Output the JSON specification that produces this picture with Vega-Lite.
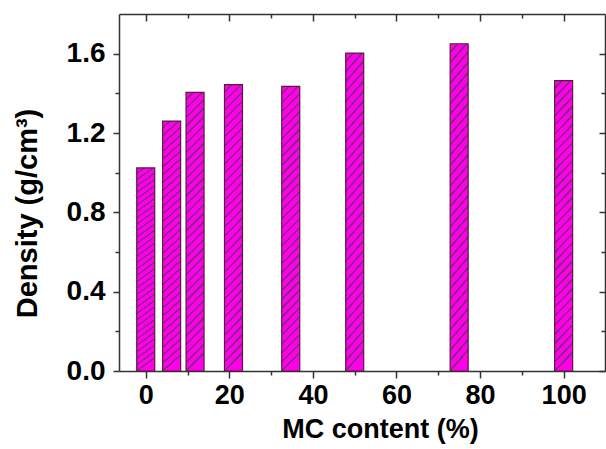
{
  "$schema": "https://vega.github.io/schema/vega-lite/v6.json",
  "width": 486,
  "height": 357,
  "autosize": {"type": "none"},
  "padding": {"left": 119, "top": 14, "right": 1, "bottom": 78},
  "background": "white",
  "config": {
    "view": {"stroke": null},
    "axis": {
      "domainColor": "#333333",
      "domainWidth": 1.5,
      "tickColor": "#333333",
      "tickWidth": 1.5,
      "grid": false,
      "labelFont": "Liberation Sans",
      "labelFontWeight": "bold",
      "labelColor": "black",
      "titleFont": "Liberation Sans",
      "titleFontWeight": "bold",
      "titleColor": "black"
    }
  },
  "data": {
    "values": [
      {"mc": 0, "density": 1.024},
      {"mc": 6.2, "density": 1.26},
      {"mc": 11.8, "density": 1.405},
      {"mc": 21.0, "density": 1.444},
      {"mc": 34.7, "density": 1.435},
      {"mc": 50, "density": 1.603},
      {"mc": 75, "density": 1.65},
      {"mc": 100, "density": 1.464}
    ]
  },
  "layer": [
    {
      "mark": {
        "type": "bar",
        "width": 18,
        "stroke": "#5a1a40",
        "strokeWidth": 1.2,
        "fill": {
          "gradient": "linear",
          "x1": 0, "y1": 0, "x2": 0.0643, "y2": 1,
          "stops": [
            {"offset": 0, "color": "#ff00e8"}, {"offset": 0.022, "color": "#ff00e8"}, {"offset": 0.023, "color": "#842a86"}, {"offset": 0.03, "color": "#842a86"},
            {"offset": 0.03125, "color": "#ff00e8"}, {"offset": 0.05325, "color": "#ff00e8"}, {"offset": 0.05425, "color": "#842a86"}, {"offset": 0.06125, "color": "#842a86"},
            {"offset": 0.0625, "color": "#ff00e8"}, {"offset": 0.0845, "color": "#ff00e8"}, {"offset": 0.0855, "color": "#842a86"}, {"offset": 0.0925, "color": "#842a86"},
            {"offset": 0.09375, "color": "#ff00e8"}, {"offset": 0.11575, "color": "#ff00e8"}, {"offset": 0.11675, "color": "#842a86"}, {"offset": 0.12375, "color": "#842a86"},
            {"offset": 0.125, "color": "#ff00e8"}, {"offset": 0.147, "color": "#ff00e8"}, {"offset": 0.148, "color": "#842a86"}, {"offset": 0.155, "color": "#842a86"},
            {"offset": 0.15625, "color": "#ff00e8"}, {"offset": 0.17825, "color": "#ff00e8"}, {"offset": 0.17925, "color": "#842a86"}, {"offset": 0.18625, "color": "#842a86"},
            {"offset": 0.1875, "color": "#ff00e8"}, {"offset": 0.2095, "color": "#ff00e8"}, {"offset": 0.2105, "color": "#842a86"}, {"offset": 0.2175, "color": "#842a86"},
            {"offset": 0.21875, "color": "#ff00e8"}, {"offset": 0.24075, "color": "#ff00e8"}, {"offset": 0.24175, "color": "#842a86"}, {"offset": 0.24875, "color": "#842a86"},
            {"offset": 0.25, "color": "#ff00e8"}, {"offset": 0.272, "color": "#ff00e8"}, {"offset": 0.273, "color": "#842a86"}, {"offset": 0.28, "color": "#842a86"},
            {"offset": 0.28125, "color": "#ff00e8"}, {"offset": 0.30325, "color": "#ff00e8"}, {"offset": 0.30425, "color": "#842a86"}, {"offset": 0.31125, "color": "#842a86"},
            {"offset": 0.3125, "color": "#ff00e8"}, {"offset": 0.3345, "color": "#ff00e8"}, {"offset": 0.3355, "color": "#842a86"}, {"offset": 0.3425, "color": "#842a86"},
            {"offset": 0.34375, "color": "#ff00e8"}, {"offset": 0.36575, "color": "#ff00e8"}, {"offset": 0.36675, "color": "#842a86"}, {"offset": 0.37375, "color": "#842a86"},
            {"offset": 0.375, "color": "#ff00e8"}, {"offset": 0.397, "color": "#ff00e8"}, {"offset": 0.398, "color": "#842a86"}, {"offset": 0.405, "color": "#842a86"},
            {"offset": 0.40625, "color": "#ff00e8"}, {"offset": 0.42825, "color": "#ff00e8"}, {"offset": 0.42925, "color": "#842a86"}, {"offset": 0.43625, "color": "#842a86"},
            {"offset": 0.4375, "color": "#ff00e8"}, {"offset": 0.4595, "color": "#ff00e8"}, {"offset": 0.4605, "color": "#842a86"}, {"offset": 0.4675, "color": "#842a86"},
            {"offset": 0.46875, "color": "#ff00e8"}, {"offset": 0.49075, "color": "#ff00e8"}, {"offset": 0.49175, "color": "#842a86"}, {"offset": 0.49875, "color": "#842a86"},
            {"offset": 0.5, "color": "#ff00e8"}, {"offset": 0.522, "color": "#ff00e8"}, {"offset": 0.523, "color": "#842a86"}, {"offset": 0.53, "color": "#842a86"},
            {"offset": 0.53125, "color": "#ff00e8"}, {"offset": 0.55325, "color": "#ff00e8"}, {"offset": 0.55425, "color": "#842a86"}, {"offset": 0.56125, "color": "#842a86"},
            {"offset": 0.5625, "color": "#ff00e8"}, {"offset": 0.5845, "color": "#ff00e8"}, {"offset": 0.5855, "color": "#842a86"}, {"offset": 0.5925, "color": "#842a86"},
            {"offset": 0.59375, "color": "#ff00e8"}, {"offset": 0.61575, "color": "#ff00e8"}, {"offset": 0.61675, "color": "#842a86"}, {"offset": 0.62375, "color": "#842a86"},
            {"offset": 0.625, "color": "#ff00e8"}, {"offset": 0.647, "color": "#ff00e8"}, {"offset": 0.648, "color": "#842a86"}, {"offset": 0.655, "color": "#842a86"},
            {"offset": 0.65625, "color": "#ff00e8"}, {"offset": 0.67825, "color": "#ff00e8"}, {"offset": 0.67925, "color": "#842a86"}, {"offset": 0.68625, "color": "#842a86"},
            {"offset": 0.6875, "color": "#ff00e8"}, {"offset": 0.7095, "color": "#ff00e8"}, {"offset": 0.7105, "color": "#842a86"}, {"offset": 0.7175, "color": "#842a86"},
            {"offset": 0.71875, "color": "#ff00e8"}, {"offset": 0.74075, "color": "#ff00e8"}, {"offset": 0.74175, "color": "#842a86"}, {"offset": 0.74875, "color": "#842a86"},
            {"offset": 0.75, "color": "#ff00e8"}, {"offset": 0.772, "color": "#ff00e8"}, {"offset": 0.773, "color": "#842a86"}, {"offset": 0.78, "color": "#842a86"},
            {"offset": 0.78125, "color": "#ff00e8"}, {"offset": 0.80325, "color": "#ff00e8"}, {"offset": 0.80425, "color": "#842a86"}, {"offset": 0.81125, "color": "#842a86"},
            {"offset": 0.8125, "color": "#ff00e8"}, {"offset": 0.8345, "color": "#ff00e8"}, {"offset": 0.8355, "color": "#842a86"}, {"offset": 0.8425, "color": "#842a86"},
            {"offset": 0.84375, "color": "#ff00e8"}, {"offset": 0.86575, "color": "#ff00e8"}, {"offset": 0.86675, "color": "#842a86"}, {"offset": 0.87375, "color": "#842a86"},
            {"offset": 0.875, "color": "#ff00e8"}, {"offset": 0.897, "color": "#ff00e8"}, {"offset": 0.898, "color": "#842a86"}, {"offset": 0.905, "color": "#842a86"},
            {"offset": 0.90625, "color": "#ff00e8"}, {"offset": 0.92825, "color": "#ff00e8"}, {"offset": 0.92925, "color": "#842a86"}, {"offset": 0.93625, "color": "#842a86"},
            {"offset": 0.9375, "color": "#ff00e8"}, {"offset": 0.9595, "color": "#ff00e8"}, {"offset": 0.9605, "color": "#842a86"}, {"offset": 0.9675, "color": "#842a86"},
            {"offset": 0.96875, "color": "#ff00e8"}, {"offset": 0.99075, "color": "#ff00e8"}, {"offset": 0.99175, "color": "#842a86"}, {"offset": 0.99875, "color": "#842a86"},
            {"offset": 1, "color": "#ff00e8"}
          ]
        }
      },
      "encoding": {
        "x": {
          "field": "mc",
          "type": "quantitative",
          "scale": {"domain": [-5.2, 108.7], "nice": false, "zero": false},
          "axis": {
            "orient": "bottom",
            "values": [0, 10, 20, 30, 40, 50, 60, 70, 80, 90, 100],
            "tickSize": {"condition": {"test": "datum.value % 20 === 0", "value": 7}, "value": 4},
            "labelExpr": "datum.value % 20 === 0 ? datum.label : ''",
            "labelFontSize": 27,
            "labelPadding": 4,
            "labelFlush": false,
            "title": "MC content (%)",
            "titleFontSize": 27,
            "titleX": 261,
            "titleY": 66,
            "titleAnchor": "middle",
            "titleAlign": "center",
            "titleBaseline": "alphabetic"
          }
        },
        "y": {
          "field": "density",
          "type": "quantitative",
          "scale": {"domain": [0, 1.8], "nice": false, "zero": true},
          "axis": {
            "orient": "left",
            "values": [0, 0.2, 0.4, 0.6, 0.8, 1.0, 1.2, 1.4, 1.6],
            "tickSize": {"condition": {"test": "round(datum.value*10) % 4 === 0", "value": 6}, "value": 4},
            "labelExpr": "round(datum.value*10) % 4 === 0 ? format(datum.value, '.1f') : ''",
            "labelFontSize": 28,
            "labelPadding": 8,
            "labelFlush": false,
            "title": "Density (g/cm³)",
            "titleFontSize": 29,
            "titleX": -92,
            "titleY": 199,
            "titleAngle": -90,
            "titleAnchor": "middle",
            "titleAlign": "center",
            "titleBaseline": "middle"
          }
        }
      }
    },
    {
      "mark": {"type": "point", "opacity": 0},
      "encoding": {
        "x": {
          "field": "mc",
          "type": "quantitative",
          "scale": {"domain": [-5.2, 108.7], "nice": false, "zero": false},
          "axis": {
            "orient": "top",
            "values": [0, 10, 20, 30, 40, 50, 60, 70, 80, 90, 100],
            "tickSize": {"condition": {"test": "datum.value % 20 === 0", "value": -7}, "value": -4},
            "labels": false,
            "title": null
          }
        },
        "y": {
          "field": "density",
          "type": "quantitative",
          "scale": {"domain": [0, 1.8], "nice": false, "zero": true},
          "axis": {
            "orient": "right",
            "values": [0, 0.2, 0.4, 0.6, 0.8, 1.0, 1.2, 1.4, 1.6],
            "tickSize": {"condition": {"test": "round(datum.value*10) % 4 === 0", "value": -6}, "value": -4},
            "labels": false,
            "title": null
          }
        }
      }
    }
  ],
  "resolve": {"axis": {"x": "independent", "y": "independent"}}
}
